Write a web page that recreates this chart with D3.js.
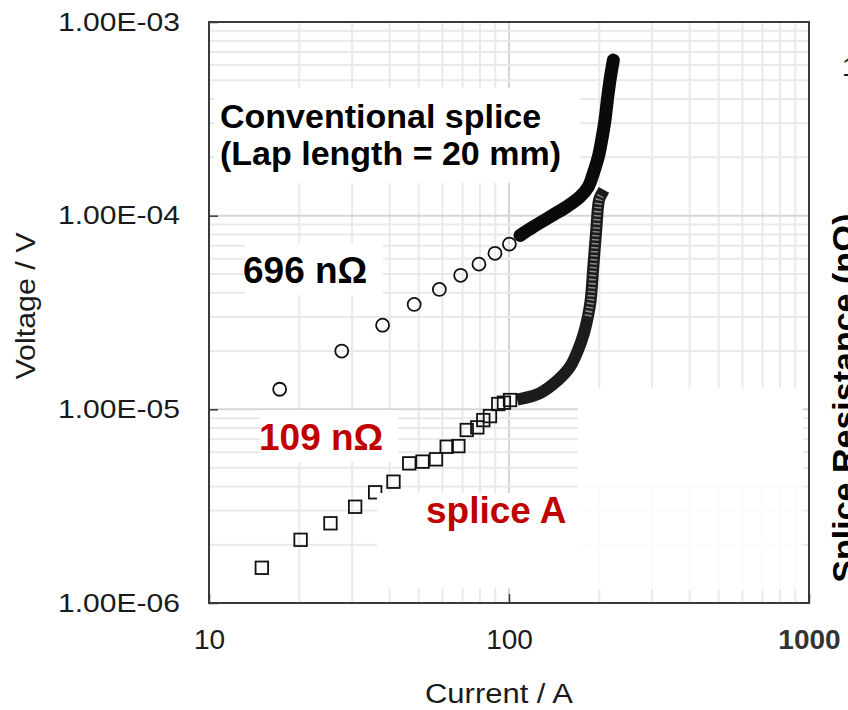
<!DOCTYPE html>
<html>
<head>
<meta charset="utf-8">
<script src="https://cdn.jsdelivr.net/npm/d3@7"></script>
<style>
  html, body { margin: 0; padding: 0; background: #fff; }
  svg { display: block; font-family: "Liberation Sans", Arial, sans-serif; }
</style>
</head>
<body>
<svg id="chart" width="848" height="710"></svg>
<script>
// Axis ticks and labels
const xTickValues = [10, 100, 1000];
const xTickLabels = ["10", "100", "1000"];
const yTickValues = [1e-6, 1e-5, 1e-4, 1e-3];
const yTickLabels = ["1.00E-06", "1.00E-05", "1.00E-04", "1.00E-03"];

// Conventional splice (lap length 20 mm): discrete low-current points, then the dense high-current record
const convCurrent = [17.2, 27.7, 37.9, 48.3, 58.6, 69.0, 79.4, 89.8, 100.3];
const convVoltage = [1.27e-5, 2.00e-5, 2.72e-5, 3.48e-5, 4.16e-5, 4.92e-5, 5.62e-5, 6.39e-5, 7.13e-5];
const convDenseCurrent = [108.8, 120.5, 137.0, 155.7, 172.5, 183.8, 191.0, 198.5, 203.7, 208.9, 212.7, 217.1, 222.7];
const convDenseVoltage = [7.9e-5, 8.76e-5, 9.87e-5, 1.112e-4, 1.252e-4, 1.41e-4, 1.654e-4, 2.014e-4, 2.456e-4, 3.115e-4, 3.95e-4, 5.01e-4, 6.36e-4];

// Splice A
const spliceACurrent = [15.0, 20.2, 25.4, 30.7, 35.8, 41.2, 46.5, 51.5, 57.1, 62.0, 67.8, 72.3, 78.4, 82.1, 86.4, 92.1, 96.2, 100.8];
const spliceAVoltage = [1.52e-6, 2.12e-6, 2.58e-6, 3.14e-6, 3.73e-6, 4.23e-6, 5.26e-6, 5.37e-6, 5.52e-6, 6.41e-6, 6.46e-6, 7.82e-6, 8.07e-6, 8.80e-6, 9.23e-6, 1.065e-5, 1.082e-5, 1.117e-5];
const spliceADenseCurrent = [111.3, 126.9, 145.7, 159.8, 169.8, 177.8, 183.4, 187.2, 191.0, 195.0, 199.5, 202.6];
const spliceADenseVoltage = [1.14e-5, 1.214e-5, 1.417e-5, 1.66e-5, 2.02e-5, 2.48e-5, 3.03e-5, 3.67e-5, 5.45e-5, 8.13e-5, 1.204e-4, 1.277e-4];

const svg = d3.select("#chart");
const plot = { left: 209, right: 809, top: 22, bottom: 603 };

const x = d3.scaleLog().domain([10, 1000]).range([plot.left, plot.right]);
const y = d3.scaleLog().domain([1e-6, 1e-3]).range([plot.bottom, plot.top]);

const red = "#c00000";

// Gridlines (minor + major)
const grid = svg.append("g");
grid.selectAll("line.vx").data(x.ticks()).join("line")
  .attr("x1", d => x(d)).attr("x2", d => x(d))
  .attr("y1", plot.top).attr("y2", plot.bottom)
  .attr("stroke", d => xTickValues.includes(d) ? "#d6d6d6" : "#e9e9e9")
  .attr("stroke-width", 2);
grid.selectAll("line.hy").data(y.ticks()).join("line")
  .attr("y1", d => y(d)).attr("y2", d => y(d))
  .attr("x1", plot.left).attr("x2", plot.right)
  .attr("stroke", d => yTickValues.some(v => Math.abs(v - d) / v < 1e-6) ? "#d6d6d6" : "#e9e9e9")
  .attr("stroke-width", 2);

// Data
const pts = (xs, ys) => xs.map((c, i) => [c, ys[i]]);
const line = d3.line().x(d => x(d[0])).y(d => y(d[1])).curve(d3.curveCatmullRom);

const convDense = pts(convDenseCurrent, convDenseVoltage);
const spliceDense = pts(spliceADenseCurrent, spliceADenseVoltage);

// dense high-current records: overlapping markers form a solid band
svg.append("path").datum(spliceDense)
  .attr("d", line).attr("fill", "none")
  .attr("stroke", "#1c1c1c").attr("stroke-width", 12)
  .attr("stroke-linecap", "square").attr("stroke-linejoin", "round");
svg.append("path").datum(spliceDense.slice(6))
  .attr("d", line).attr("fill", "none")
  .attr("stroke", "#8a8a8a").attr("stroke-width", 7)
  .attr("stroke-dasharray", "1.5 2.5");

svg.append("path").datum(convDense)
  .attr("d", line).attr("fill", "none")
  .attr("stroke", "#0a0a0a").attr("stroke-width", 13)
  .attr("stroke-linecap", "round").attr("stroke-linejoin", "round");

svg.append("g").selectAll("circle").data(pts(convCurrent, convVoltage)).join("circle")
  .attr("cx", d => x(d[0])).attr("cy", d => y(d[1])).attr("r", 6.5)
  .attr("fill", "none").attr("stroke", "#111").attr("stroke-width", 1.8);

const sq = 12.5;
svg.append("g").selectAll("rect").data(pts(spliceACurrent, spliceAVoltage)).join("rect")
  .attr("x", d => x(d[0]) - sq / 2).attr("y", d => y(d[1]) - sq / 2)
  .attr("width", sq).attr("height", sq)
  .attr("fill", "none").attr("stroke", "#111").attr("stroke-width", 1.8);

// White label backgrounds
const boxes = [
  [215, 88, 365, 95, 1],
  [245, 243, 138, 52, 1],
  [260, 410, 138, 52, 1],
  [377, 493, 201, 95, 1],
  [578, 388, 225, 97, 1],
  [578, 485, 225, 105, 0.8]
];
svg.append("g").selectAll("rect").data(boxes).join("rect")
  .attr("x", d => d[0]).attr("y", d => d[1]).attr("width", d => d[2]).attr("height", d => d[3])
  .attr("fill", "#fff").attr("fill-opacity", d => d[4]);

// Frame
svg.append("rect")
  .attr("x", plot.left).attr("y", plot.top)
  .attr("width", plot.right - plot.left).attr("height", plot.bottom - plot.top)
  .attr("fill", "none").attr("stroke", "#3a3a3a").attr("stroke-width", 2);

// Axes
const xAxis = d3.axisBottom(x).tickValues(xTickValues)
  .tickFormat((d, i) => xTickLabels[i]).tickSizeInner(-9).tickSizeOuter(0).tickPadding(26);
const gx = svg.append("g").attr("transform", `translate(0,${plot.bottom})`).call(xAxis);
gx.select(".domain").remove();
gx.selectAll(".tick line").attr("stroke", "#3a3a3a").attr("stroke-width", 1.5);
gx.selectAll(".tick text")
  .attr("font-size", 28)
  .attr("font-family", "Liberation Sans, Arial, sans-serif")
  .attr("font-weight", (d, i) => i === 2 ? "bold" : "normal")
  .attr("fill", (d, i) => i === 2 ? "#333" : "#1a1a1a");

const yAxis = d3.axisLeft(y).tickValues(yTickValues)
  .tickFormat((d, i) => yTickLabels[i]).tickSizeInner(-9).tickSizeOuter(0).tickPadding(29);
const gy = svg.append("g").attr("transform", `translate(${plot.left},0)`).call(yAxis);
gy.select(".domain").remove();
gy.selectAll(".tick line").attr("stroke", "#3a3a3a").attr("stroke-width", 1.5);
gy.selectAll(".tick text")
  .attr("font-size", 26).attr("fill", "#1a1a1a")
  .attr("font-family", "Liberation Sans, Arial, sans-serif")
  .attr("textLength", 122).attr("lengthAdjust", "spacingAndGlyphs");

// Axis titles
svg.append("text")
  .attr("x", 499).attr("y", 703).attr("text-anchor", "middle")
  .attr("font-size", 27).attr("fill", "#1a1a1a")
  .attr("textLength", 148).attr("lengthAdjust", "spacingAndGlyphs")
  .text("Current / A");
svg.append("text")
  .attr("transform", "translate(35,306) rotate(-90)").attr("text-anchor", "middle")
  .attr("font-size", 27).attr("fill", "#1a1a1a")
  .attr("textLength", 147).attr("lengthAdjust", "spacingAndGlyphs")
  .text("Voltage / V");

// Annotations
const ann = svg.append("g").attr("font-weight", "bold");
ann.append("text").attr("x", 220).attr("y", 128).attr("font-size", 34).attr("fill", "#000").text("Conventional splice");
ann.append("text").attr("x", 220).attr("y", 165).attr("font-size", 34).attr("fill", "#000").text("(Lap length = 20 mm)");
ann.append("text").attr("x", 243).attr("y", 283).attr("font-size", 37).attr("fill", "#000").text("696 nΩ");
ann.append("text").attr("x", 259).attr("y", 450).attr("font-size", 37).attr("fill", red).text("109 nΩ");
ann.append("text").attr("x", 426).attr("y", 523).attr("font-size", 37).attr("fill", red).text("splice A");

// Neighbouring panel text running past the right edge
svg.append("text")
  .attr("transform", "translate(856,398) rotate(-90)").attr("text-anchor", "middle")
  .attr("font-size", 34).attr("font-weight", "bold").attr("fill", "#000")
  .text("Splice Resistance (nΩ)");
svg.append("text")
  .attr("x", 842).attr("y", 76).attr("font-size", 26).attr("fill", "#1a1a1a")
  .text("1");
</script>
</body>
</html>
